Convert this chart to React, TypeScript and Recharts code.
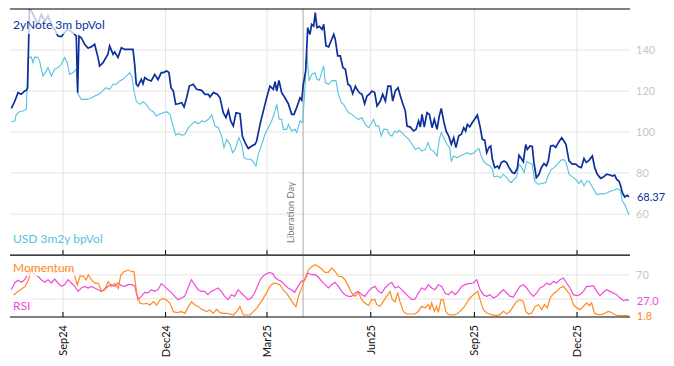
import React from 'react';
import { LineChart, Line, XAxis, YAxis, ReferenceLine, ReferenceDot } from 'recharts';

// x positions are calendar days counted from 16 Jul 2024
const X_TICK_DAYS = [47, 138, 228, 320, 412, 503];
const X_TICK_LABELS = ['Sep24', 'Dec24', 'Mar25', 'Jun25', 'Sep25', 'Dec25'];
const LIBERATION_DAY = 260;
const LIBERATION_LABEL = 'Liberation Day';
const DAY_DOMAIN: [number, number] = [0, 550];
const VOL_DOMAIN: [number, number] = [40, 160];
const VOL_TICKS = [60, 80, 100, 120, 140];
const OSC_DOMAIN: [number, number] = [0, 103];
const OSC_TICKS = [70];
const OSC_GRID = [30, 70];

const SERIES_NAMES = {
  note: '2yNote 3m bpVol',
  usd: 'USD 3m2y bpVol',
  momentum: 'Momentum',
  rsi: 'RSI',
};

const NOTE_VOL: [number, number][] = [
  [1.2,111.5],[4.2,115],[7.1,119.2],[10,118.4],[13,120],[14.5,120.3],[15.6,121.5],[17.2,159.8],[18.9,159],[21.9,155.8],[24.8,152.5],[27.8,157.4],[30.8,154],[33.7,156.6],[36.7,152.5],[39.6,150],[42.6,146.8],[45.5,146.5],[48.5,148.5],[51.4,150],[54.4,149],[57.4,147.6],[58.8,146.8],[60,119.2],[61.2,146.8],[63.3,146],[66.2,142.8],[69.2,141],[72.1,141.5],[75.1,142.8],[78.1,136.3],[79.5,132.2],[82.5,133.8],[86.9,137.9],[88.4,142],[91.4,137.9],[92.9,139],[95.8,136.3],[98.8,141.1],[101.7,140.3],[104.7,140.3],[109.1,140.3],[110.6,133],[112,123.3],[113.5,122.4],[116.5,125.7],[118,123.5],[119.5,126.5],[122.4,125.5],[125.3,124.9],[128.4,128.1],[131.3,125.5],[134.2,129],[136,129],[139,129.8],[141,129],[142.8,121.6],[144.9,120],[147,113.5],[149.3,113.8],[152.3,114.3],[154.4,112.2],[156.7,116.7],[159.1,122.4],[162.6,123.3],[165.6,120.8],[170,120.3],[173,118.4],[176,118.4],[177.4,117.1],[180.4,119.2],[183.9,118.4],[186.3,116.7],[189.2,109.4],[191.6,107],[193.7,110.6],[195.8,105.4],[198.1,102.9],[200.5,109.4],[204,108.9],[206.1,98],[208.5,94.8],[211.4,92],[214.4,93.2],[217.3,94],[218.8,95.6],[221.8,103.7],[224.7,110.2],[227.7,116.7],[230.6,122.4],[233.6,120.8],[235.1,124.6],[236.6,120],[238.6,125.2],[241,119.2],[243.9,116.7],[246.9,113.8],[249.9,108.6],[251.9,108.6],[254.3,111.9],[257.3,116.7],[258.8,115.5],[260.2,123.3],[262.3,129.8],[264.1,150.9],[266.1,147.6],[267.6,152.5],[269.4,151.7],[270.8,158.2],[272.3,150.9],[274.4,151.5],[276.8,150.1],[278.3,152.5],[280.3,142],[282.7,141.5],[284.8,144.4],[287.2,147.6],[288.6,145],[290.7,137.1],[293,137.1],[295.4,131.4],[297.5,130.6],[299.8,123.3],[301.9,122.4],[304,118.7],[306.4,122.4],[307.8,120.8],[309.9,119.2],[312.3,118.4],[314.6,113.8],[316.7,117.6],[318.7,118.4],[321.1,120],[323.5,119.2],[325.6,112.7],[328.5,115.1],[330.6,118.4],[333,115.1],[335.3,122.4],[337.7,122.4],[339.5,115.1],[341.8,120],[344.2,121.6],[346.3,117.6],[348.6,113.5],[350.7,110.2],[352.2,102.9],[355.1,102.4],[358.1,100.5],[360.2,101.3],[362.5,105.4],[364,102.4],[365.5,108.6],[367.5,102.4],[369.9,109.4],[372,108.6],[374.4,102.1],[376.4,106.2],[378.8,101.3],[380.8,107.8],[382.6,111.5],[384.7,105.4],[386.8,100.5],[389.2,98],[391.5,94],[393.6,97.2],[395.6,92.4],[398,98],[400.4,98.9],[402.5,102.1],[404.2,100.5],[405.7,103.7],[407.8,102.5],[410.1,104.6],[412.2,106.2],[414.6,108.3],[416.9,102.9],[419,96.4],[421.1,96],[422.9,89.9],[424.9,92.6],[426.4,93.2],[427.9,86.7],[430,82.6],[432.3,83.4],[433.8,82.3],[435.8,85.1],[438.2,85.9],[440.6,85.1],[442.7,82.6],[445.6,80.2],[447.7,79.8],[450,82.2],[451.5,88.7],[453.6,87.1],[455.4,85.5],[457.5,93.9],[458.9,91.5],[461.3,93.2],[463.3,93],[464.8,85.1],[466.9,77.7],[469.3,79.4],[471.3,82.6],[473.7,84.6],[475.8,83.5],[477.5,85.9],[479.6,93.2],[482,93.5],[484.1,92.5],[486.4,94.8],[489.4,97.2],[491.4,95.6],[493.2,94],[495.9,85.9],[498.8,84.3],[501.8,84.3],[504.7,83],[506.8,82.6],[509.2,87.1],[511.2,85.1],[513.6,86.2],[516.6,88.3],[518.7,82.6],[521,79.4],[524,77.4],[526.3,78],[529.3,79.4],[532.2,79],[534.3,78.5],[536.4,79],[538.2,76.9],[540.2,76.1],[541.7,73.7],[543.2,70.4],[545.3,68.3],[547.6,69.1],[549.1,68.37],
];

const USD_VOL: [number, number][] = [
  [1.2,105],[4.2,105.4],[5.6,108.6],[8.6,110],[11.5,110.2],[14.5,111],[16,136.3],[18.9,136.6],[20.4,133.8],[21.9,136.6],[24.8,136.3],[26.3,134.6],[27.8,130.6],[29.3,127.3],[32.2,129.8],[33.7,131.4],[36.7,127.3],[39.6,130.6],[42.6,131.4],[45.5,133],[48.5,136.3],[50.8,133.8],[52.9,128.1],[55.9,129],[58.8,130.6],[60.3,118.4],[63.3,115.9],[67.7,115.9],[70.7,116.2],[75.1,117.6],[79.5,118.7],[82.5,120.3],[85.4,121.6],[88.4,120.8],[91.4,123.3],[94.3,123.3],[97.3,124.9],[100.2,125.7],[103.2,127.3],[106.2,128.9],[108.2,126.8],[110,120],[112,115.1],[115.1,113.5],[118,114.8],[120.9,113.5],[123.9,111],[126.9,110],[129.8,107.8],[133,108.8],[139,109.9],[141.9,108.6],[144.3,103.7],[147,98.5],[149.3,99.2],[152.3,98.5],[155.2,98.8],[158.2,102.1],[161.2,103.7],[164.1,105],[167.1,104],[170,105.4],[173,105],[176,106.2],[178.9,108.3],[181.9,102.9],[184.8,102.1],[187.8,98],[189.8,92.4],[192.2,96.4],[195.2,94],[197.5,89.9],[199.6,91.5],[203.1,97.2],[205.5,94],[207.6,87.5],[210.5,86.7],[213.5,86.7],[215.8,85.5],[218.2,83.4],[220.3,89.1],[223.3,94],[226.2,98.9],[229.1,102.1],[232.1,105.4],[235.1,110.2],[236.6,113.5],[238.9,106.2],[241,106.2],[242.5,101.3],[245.5,101.3],[246.9,103.7],[249.9,100.5],[252.8,101.3],[254.3,99.7],[257.3,105.4],[259.6,104.6],[261.7,121.6],[263.2,139.5],[265.3,124.9],[267.6,128.1],[270.5,128.9],[272.3,125.7],[274.4,125.2],[276.8,129.8],[278.3,132.2],[279.7,124.1],[282.7,123.3],[285,124.9],[287.4,125.2],[289.2,125],[291,119.2],[293.9,114.3],[296,113.5],[298.4,111],[300.4,109.4],[303.4,108.6],[306.4,107],[309.3,106.2],[312.3,107],[315.2,103.7],[318.2,102.1],[321.1,104.6],[322.6,106.2],[324.7,103],[327,103],[329.4,98],[331.5,101.3],[334.4,101.3],[336.5,98.9],[338.9,98],[341.2,100.5],[343.3,99.7],[345.3,100.8],[347.7,99.7],[350.7,98],[353.7,96.4],[356.6,94],[359.6,91.5],[362.5,92.4],[365.5,90.7],[368.4,91.5],[370.8,94.8],[372.8,91.5],[375.8,90.7],[378.8,88.3],[380.8,96.4],[382.6,99.7],[384.7,97.2],[387.6,94],[390,92.4],[391.5,85.9],[393.6,88.3],[396.6,87.5],[399.5,88.3],[402.5,89.1],[405.6,89.9],[408.7,89.1],[411.6,89.9],[414.6,91.5],[416,92],[417.5,89.1],[419.9,85.9],[422.9,84.3],[425.8,83.4],[427.9,81.8],[429.3,78.1],[432.3,78.5],[435.3,77.7],[437.6,79.4],[440.6,77.8],[442.7,76.1],[444.7,75.3],[447.1,76.9],[449.5,78.1],[451.5,84.3],[453.6,83],[456,80.2],[458.3,85.5],[460.4,85],[463.3,84.3],[465.4,76.1],[468.4,74.5],[471.3,74.8],[475.2,75.3],[477.3,78.5],[480.2,81.8],[482.6,82.6],[485.6,84.2],[488.6,86.2],[491.5,86.5],[493.6,84.6],[495.9,79.4],[498.8,78.1],[501.8,76.9],[504.7,74.8],[506.8,76.4],[509.2,73.7],[511.6,76.1],[513.6,76],[515.7,74],[518,71.9],[520.5,69.5],[524,69.8],[526.9,69.8],[529.9,70.4],[532.9,71.2],[535.8,71.5],[538.2,72.4],[540.2,72],[541.7,71.2],[543.2,66.3],[545.3,64.7],[547.6,61.5],[549.1,59.5],
];

const RSI: [number, number][] = [
  [1.2,45.4],[4.1,56.5],[7.1,60.9],[10.1,57.6],[13,62],[16,72],[18.9,78.6],[21.9,70.3],[24.8,67.6],[27.8,62],[30.8,57.6],[33.7,62],[36.7,56.5],[39.6,63.1],[42.6,56.5],[45.5,50.9],[48.5,53.7],[51.5,62],[54.4,56.5],[57.4,50.9],[60.3,42.6],[63.3,48.2],[66.2,50.9],[69.2,48.2],[72.1,50.9],[75.1,48.2],[78.1,45.4],[81,42.6],[84,45.4],[86.9,50.9],[89.9,53.7],[92.9,50.9],[95.8,56.5],[98.8,52],[101.7,50.9],[104.7,53.7],[107.6,53.7],[110.6,52],[113.5,28.8],[116.5,34.3],[119.5,41],[122.4,40],[125.4,45.4],[128.3,42.6],[131.3,45.4],[134.2,55.4],[137.2,50.9],[140.2,45.4],[143.1,41],[146.1,34.3],[149,28.8],[152,31.6],[154.9,34.3],[157.9,48.2],[160.9,62],[163.8,53.7],[166.8,45.4],[169.7,42.6],[172.7,42.6],[175.6,37.1],[178.6,42.6],[181.6,45.4],[184.5,48.2],[187.5,42.6],[190.4,34.3],[193.4,28.8],[196.3,37.1],[199.3,34.3],[202.3,45.4],[205.2,39.9],[208.2,34.3],[211.1,28.8],[214.1,31.6],[217,39.9],[220,53.7],[222.9,64.8],[225.9,70.3],[230.3,74.2],[233.3,72],[234.8,66.4],[237.7,62],[240.7,59.2],[243.6,53.7],[246.6,48.2],[249.6,45.4],[252.5,41],[255.5,50.9],[258.4,59.2],[261.4,60.9],[264.4,73.1],[267.3,70.3],[270.6,70.3],[273.5,66.4],[276.5,59.2],[279.5,53.7],[282.4,48.2],[285.4,53.7],[288.3,57.6],[291.3,50.9],[294.2,42.6],[297.2,37.1],[300.2,34.3],[303.1,34.3],[306.1,39.9],[309,42.6],[312,37.1],[314.9,34.3],[317.9,42.6],[320.9,48.2],[323.8,50.9],[326.8,42.6],[329.7,39.9],[332.7,48.2],[335.6,53.7],[338.6,57.6],[341.6,48.2],[344.5,50.9],[347.5,45.4],[350.4,39.9],[353.4,34.3],[356.3,28.8],[359.3,29.9],[362.3,39.9],[365.2,48.2],[368.2,45.4],[371.1,53.7],[374.1,48.2],[377,45.4],[380,53.7],[383,50.9],[385.9,39.9],[388.9,37.1],[391.8,42.6],[394.8,37.1],[397.7,42.6],[400.7,50.9],[403.7,53.7],[406.6,55.4],[411,56.5],[414,62],[417,45.4],[419.9,37.1],[422.9,34.3],[425.8,37.1],[428.8,31.6],[431.8,34.3],[434.7,39.9],[437.7,45.4],[440.6,39.9],[443.6,34.3],[446.5,33.2],[449.5,42.6],[452.4,50.9],[455.4,53.7],[458.4,48.2],[461.3,39.9],[464.3,34.3],[467.2,39.9],[470.2,48.2],[473.1,50.9],[476.1,56.5],[479.1,53.7],[482,59.2],[485,56.5],[487.9,62],[490.9,64.8],[493.8,56.5],[496.8,48.2],[499.8,37.1],[502.7,35.4],[505.7,37.1],[508.6,42.6],[511.6,50.9],[514.5,50.9],[517.5,52],[520.5,42.6],[523.4,35.4],[526.4,41],[529.3,45.4],[532.3,42.6],[535.2,39.9],[538.2,37.1],[541.2,31.6],[544.1,27.1],[547.1,28.8],[549,27.0],
];

const MOMENTUM: [number, number][] = [
  [3,36.5],[8.9,44.9],[13.3,50.4],[16.3,61.5],[19.2,78],[23.7,83.6],[29.6,78],[35.5,83.6],[39.9,72.5],[44.4,83.6],[50.3,78],[54.7,80.8],[57.7,67],[59.7,53.2],[62.1,68],[65.1,68.1],[67.4,61.5],[69.5,69.8],[72.4,61.5],[75.4,55.9],[78.4,55.9],[81.3,42.1],[84.3,47.6],[87.2,58.7],[90.2,50.4],[93.1,55.9],[96.1,47.6],[98.2,69.8],[101.1,75.3],[105,78],[107.9,75.3],[110,75.3],[112.4,39.3],[115.3,22.7],[118.3,21.6],[121.2,22.7],[124.2,19.9],[127.2,25.5],[130.1,19.9],[133.1,28.2],[136,31],[139,28.2],[141.9,22.7],[144.9,8.9],[147.8,7.2],[152.3,8.9],[155.2,6.1],[158.2,17.2],[161.2,25.5],[164.1,19.9],[167.1,17.2],[170,12.7],[174.5,8.9],[177.4,11.6],[180.4,6.1],[183.3,12.7],[186.3,7.2],[189.3,6.1],[192.2,6.1],[195.2,5],[198.1,3.3],[201.1,8.9],[204,17.2],[207,3.3],[210,3.3],[212.9,3.3],[215.9,8.9],[218.8,14.4],[221.8,22.7],[224.7,31],[227.7,40.4],[230.6,51.5],[233.6,55.9],[236.6,55.9],[239.5,53.2],[242.5,44.9],[245.4,39.3],[248.4,31],[251.3,22.7],[253.7,17.2],[255.8,33.8],[258.7,47.6],[261.7,64.2],[264.6,78],[267.6,83.6],[270.6,86.9],[273.5,84.2],[276.5,79.7],[279.5,74.2],[282.4,74.2],[285.4,81.4],[288.3,75.9],[291.3,67.6],[294.2,67],[297.2,62],[300.2,50.9],[303.1,39.9],[306.1,34.3],[309,41],[312,28.8],[314.9,23.3],[317.9,18.8],[320.9,28.8],[323.8,28.8],[325.3,20.5],[328.2,17.7],[331.2,26],[334.2,34.3],[337.1,42.6],[339.2,28.8],[341.6,25],[343.9,41],[346,25],[349,9.4],[351.9,5],[356.3,5],[359.3,5],[362.3,9.4],[365.2,17.7],[368.2,15],[371.1,20.5],[372.6,13],[374.1,23.3],[376.5,9.4],[378.5,17.7],[380,7.8],[382.4,28.8],[384.4,28.8],[386.5,9.4],[388.9,3.9],[393.3,3.3],[396.3,5],[399.2,9.4],[402.2,15],[405.1,23.3],[408.1,31.6],[411,37.1],[414.9,42.6],[417,28.8],[419.9,12.2],[422.9,6.6],[427.3,3.9],[431.8,2.2],[434.7,3.9],[437.7,9.4],[440.6,5],[443.6,9.4],[446.5,17.7],[449.5,26],[452.4,28.8],[455.4,26],[457.5,9.4],[459.9,5],[462.8,6.6],[465.8,17.7],[468.7,20.5],[471.7,12.2],[474,20.5],[476.7,15],[479.1,31.6],[482,38.8],[485,42.6],[487.9,48.2],[490.9,50.9],[493.8,44.3],[496.8,37.1],[499.8,20.5],[502.7,15],[505.7,12.2],[508.6,17.7],[511.6,23.3],[513.7,18.8],[516,23.3],[518.4,6.6],[521.4,3.9],[524.9,3.9],[527.9,6.6],[530.8,9.4],[533.2,7.8],[535.2,5.5],[538.2,2.8],[547.1,2.2],[549,1.8],
];

const COLORS = {
  note: '#0c2f9c',
  usd: '#55c3df',
  momentum: '#ff8a1e',
  rsi: '#f24ad8',
  axisText: '#c8c8c8',
  grid: '#e4e4e4',
  event: '#aaaaaa',
};

const FONT = 'Lato, "Open Sans", sans-serif';

const toRows = (arr: [number, number][]) => arr.map(([d, v]) => ({ d, v }));
const noteRows = toRows(NOTE_VOL);
const usdRows = toRows(USD_VOL);
const rsiRows = toRows(RSI);
const momRows = toRows(MOMENTUM);

const last = (arr: [number, number][]) => arr[arr.length - 1];

const EndLabel = (props: any) => {
  const vb = props.viewBox || {};
  const x = (vb.x ?? props.x) + (vb.width ?? 0) / 2;
  const y = (vb.y ?? props.y) + (vb.height ?? 0) / 2;
  return (
    <text x={x + 8} y={y} dy={4} fill={props.color} fontSize={11} fontFamily={FONT}>
      {props.text}
    </text>
  );
};

const LibLabel = (props: any) => {
  const vb = props.viewBox || {};
  const x = vb.x;
  const yb = vb.y + vb.height;
  return (
    <text
      transform={`translate(${x - 9.5},${yb - 12}) rotate(-90)`}
      textAnchor="start"
      fontSize={9.5}
      fill="#777"
      fontFamily={FONT}
    >
      {LIBERATION_LABEL}
    </text>
  );
};

const RotTick = (props: any) => {
  const { x, y, payload } = props;
  const i = X_TICK_DAYS.indexOf(payload.value);
  return (
    <text
      transform={`translate(${x + 4},${y + 8}) rotate(-90)`}
      textAnchor="end"
      fontSize={11}
      fill="#111"
      fontFamily={FONT}
    >
      {X_TICK_LABELS[i]}
    </text>
  );
};

const labelBox = (top: number, color: string, text: string, bg: boolean, padTop = 2, padBottom = 2) => (
  <div
    style={{
      position: 'absolute',
      left: 10,
      top,
      paddingTop: padTop,
      paddingBottom: padBottom,
      paddingLeft: 3,
      paddingRight: 3,
      lineHeight: '14px',
      fontSize: 12,
      fontFamily: FONT,
      color,
      background: bg ? 'rgba(255,255,255,0.75)' : 'transparent',
      whiteSpace: 'nowrap',
    }}
  >
    {text}
  </div>
);

export default function App() {
  const noteLast = last(NOTE_VOL);
  const rsiLast = last(RSI);
  const momLast = last(MOMENTUM);
  return (
    <div style={{ position: 'absolute', left: 0, top: 0, width: 674, height: 366, background: '#fff', fontFamily: FONT }}>
      <div style={{ position: 'absolute', left: 0, top: 0 }}>
        <LineChart width={674} height={256} margin={{ top: 9, right: 0, bottom: 1, left: 10 }}>
          <XAxis type="number" dataKey="d" domain={DAY_DOMAIN} hide allowDataOverflow />
          <YAxis
            orientation="right"
            type="number"
            domain={VOL_DOMAIN}
            ticks={VOL_TICKS}
            allowDataOverflow
            axisLine={false}
            tickLine={false}
            tickSize={0}
            tickMargin={6}
            width={44}
            tick={{ fill: COLORS.axisText, fontSize: 11, fontFamily: FONT }}
          />
          {VOL_TICKS.map((v) => (
            <ReferenceLine key={'h' + v} y={v} stroke={COLORS.grid} />
          ))}
          {X_TICK_DAYS.map((d) => (
            <ReferenceLine key={'v' + d} x={d} stroke={COLORS.grid} />
          ))}
          <ReferenceLine x={LIBERATION_DAY} stroke={COLORS.event} label={<LibLabel />} />
          <ReferenceLine y={VOL_DOMAIN[1]} stroke="#000" />
          <ReferenceLine y={VOL_DOMAIN[0]} stroke="#000" />
          {X_TICK_DAYS.map((d) => (
            <ReferenceLine
              key={'t' + d}
              segment={[{ x: d, y: VOL_DOMAIN[0] }, { x: d, y: VOL_DOMAIN[0] + 2.4 }]}
              stroke="#000"
            />
          ))}
          <Line data={usdRows} dataKey="v" type="linear" stroke={COLORS.usd} strokeWidth={1.1} dot={false} isAnimationActive={false} />
          <Line data={noteRows} dataKey="v" type="linear" stroke={COLORS.note} strokeWidth={1.7} dot={false} isAnimationActive={false} />
          <ReferenceDot
            x={noteLast[0]}
            y={noteLast[1]}
            r={0}
            fill="none"
            stroke="none"
            label={<EndLabel color={COLORS.note} text={noteLast[1].toFixed(2)} />}
          />
        </LineChart>
      </div>
      <div style={{ position: 'absolute', left: 0, top: 255 }}>
        <LineChart width={674} height={111} margin={{ top: 0, right: 0, bottom: 0, left: 10 }}>
          <XAxis
            type="number"
            dataKey="d"
            domain={DAY_DOMAIN}
            allowDataOverflow
            ticks={X_TICK_DAYS}
            interval={0}
            height={49}
            tickLine={false}
            tickSize={0}
            tickMargin={0}
            axisLine={{ stroke: '#000' }}
            tick={<RotTick />}
          />
          <YAxis
            orientation="right"
            type="number"
            domain={OSC_DOMAIN}
            ticks={OSC_TICKS}
            allowDataOverflow
            axisLine={false}
            tickLine={false}
            tickSize={0}
            tickMargin={6}
            width={44}
            tick={{ fill: COLORS.axisText, fontSize: 11, fontFamily: FONT }}
          />
          {OSC_GRID.map((v) => (
            <ReferenceLine key={'h' + v} y={v} stroke={COLORS.grid} />
          ))}
          {X_TICK_DAYS.map((d) => (
            <ReferenceLine key={'v' + d} x={d} stroke={COLORS.grid} />
          ))}
          <ReferenceLine x={LIBERATION_DAY} stroke={COLORS.event} />
          <ReferenceLine y={OSC_DOMAIN[1]} stroke="#000" />
          {X_TICK_DAYS.map((d) => (
            <ReferenceLine
              key={'t' + d}
              segment={[{ x: d, y: OSC_DOMAIN[0] }, { x: d, y: OSC_DOMAIN[0] + 8.3 }]}
              stroke="#000"
            />
          ))}
          <Line data={rsiRows} dataKey="v" type="linear" stroke={COLORS.rsi} strokeWidth={1.2} dot={false} isAnimationActive={false} />
          <Line data={momRows} dataKey="v" type="linear" stroke={COLORS.momentum} strokeWidth={1.2} dot={false} isAnimationActive={false} />
          <ReferenceDot
            x={rsiLast[0]}
            y={rsiLast[1]}
            r={0}
            fill="none"
            stroke="none"
            label={<EndLabel color={COLORS.rsi} text={rsiLast[1].toFixed(1)} />}
          />
          <ReferenceDot
            x={momLast[0]}
            y={momLast[1]}
            r={0}
            fill="none"
            stroke="none"
            label={<EndLabel color={COLORS.momentum} text={momLast[1].toFixed(1)} />}
          />
        </LineChart>
      </div>
      {labelBox(10, COLORS.note, SERIES_NAMES.note, true, 8, 2)}
      {labelBox(230, COLORS.usd, SERIES_NAMES.usd, false, 2, 2)}
      {labelBox(259, COLORS.momentum, SERIES_NAMES.momentum, true, 2, 1)}
      {labelBox(297, COLORS.rsi, SERIES_NAMES.rsi, true, 2, 2)}
    </div>
  );
}
